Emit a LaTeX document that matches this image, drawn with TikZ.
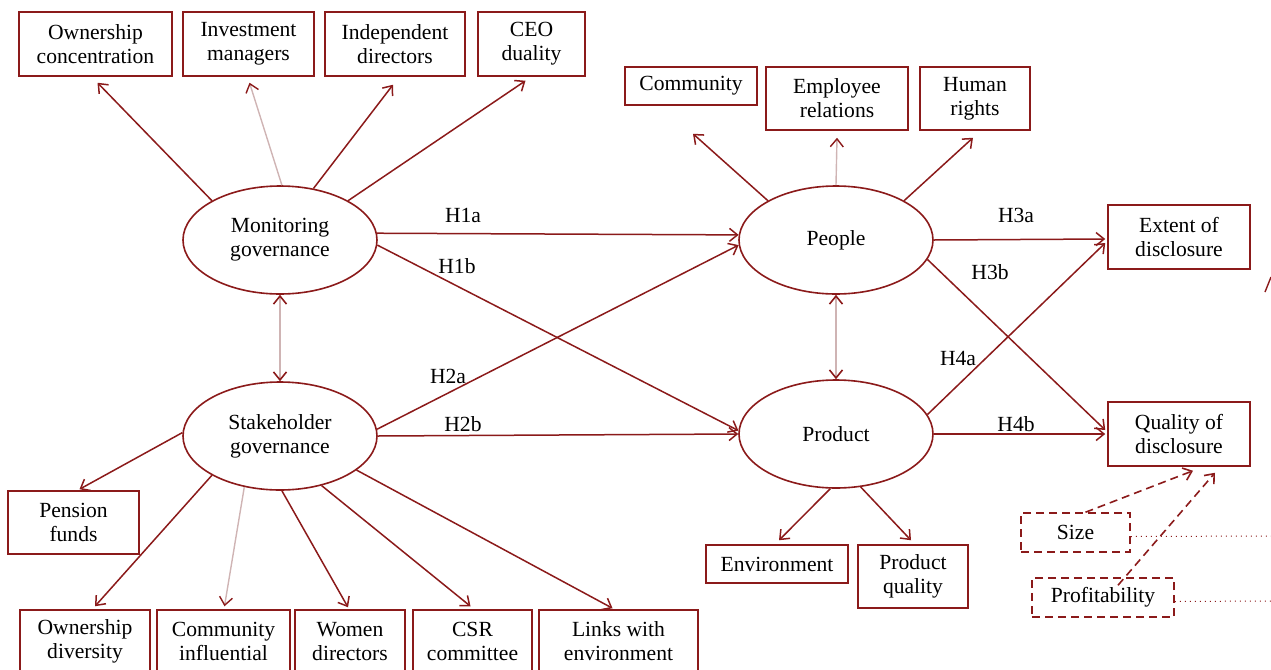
\documentclass[tikz,border=0pt]{standalone}
\usepackage{fontspec}
\setmainfont{Liberation Serif}
\usetikzlibrary{arrows.meta,shapes.geometric}
\definecolor{wine}{HTML}{8B1A1A}
\definecolor{pale}{HTML}{CFB4B4}
\tikzset{
  txt/.style={font=\fontsize{10.8}{12}\selectfont},
  box/.style={txt, draw=wine, line width=0.75pt, align=center, inner sep=1pt},
  dbox/.style={box, dash pattern=on 4pt off 2.5pt},
  oval/.style={txt, ellipse, draw=wine, line width=0.8pt, align=center, inner sep=0pt,
    minimum width=97pt, minimum height=54pt},
  tip/.style={-{Straight Barb[length=4pt,width=6.5pt]}},
  link/.style={draw=wine, line width=0.75pt, tip},
  faint/.style={draw=pale, line width=0.7pt, -{Straight Barb[length=4pt,width=6.5pt,color=wine]}},
  both/.style={draw=pale, line width=0.8pt,
    {Straight Barb[length=4pt,width=6.5pt,color=wine]}-{Straight Barb[length=4pt,width=6.5pt,color=wine]}},
  ctl/.style={draw=wine, line width=0.8pt, dash pattern=on 4pt off 2.5pt, tip},
  trail/.style={draw=wine, line width=0.5pt, dotted},
  lab/.style={txt},
}

\begin{document}
\begin{tikzpicture}[x=0.5pt, y=-0.5pt]
  \useasboundingbox (0,0) rectangle (1271,670);
  % latent constructs
  \node[oval] (mon) at (280,240) {Monitoring\\governance};
  \node[oval] (sta) at (280,436) {Stakeholder\\governance};
  \node[oval] (peo) at (836,240) {People};
  \node[oval] (pro) at (836,434) {Product};
  % monitoring indicators
  \node[box, minimum width=76.5pt, minimum height=32pt] (oc)  at (95.5,44)   {Ownership\\concentration};
  \node[box, minimum width=65.5pt, minimum height=32pt] (im)  at (248.5,44)  {Investment\\managers};
  \node[box, minimum width=70pt,   minimum height=32pt] (id)  at (395,44)    {Independent\\directors};
  \node[box, minimum width=53.5pt, minimum height=32pt] (ceo) at (531.5,44)  {CEO\\duality};
  % stakeholder indicators
  \node[box, minimum width=65.5pt, minimum height=31.5pt] (pf)  at (73.5,522.5) {Pension\\funds};
  \node[box, minimum width=65pt,   minimum height=31.5pt] (od)  at (85,641.5)   {Ownership\\diversity};
  \node[box, minimum width=66.5pt, minimum height=31.5pt] (ci)  at (223.5,641.5) {Community\\influential};
  \node[box, minimum width=55pt,   minimum height=31.5pt] (wd)  at (350,641.5)  {Women\\directors};
  \node[box, minimum width=59.5pt, minimum height=31.5pt] (csr) at (472.5,641.5) {CSR\\committee};
  \node[box, minimum width=79.5pt, minimum height=31.5pt] (lw)  at (618.5,641.5) {Links with\\environment};
  % CSR indicators
  \node[box, minimum width=66pt, minimum height=19pt]   (com) at (691,86)    {Community};
  \node[box, minimum width=71pt, minimum height=31.5pt] (er)  at (837,98.5)  {Employee\\relations};
  \node[box, minimum width=55pt, minimum height=31.5pt] (hr)  at (975,98.5)  {Human\\rights};
  \node[box, minimum width=71pt, minimum height=19pt]   (env) at (777,564)   {Environment};
  \node[box, minimum width=55pt, minimum height=31.5pt] (pq)  at (913,576.5) {Product\\quality};
  % disclosure
  \node[box, minimum width=71pt, minimum height=32pt] (ext)  at (1179,237) {Extent of\\disclosure};
  \node[box, minimum width=71pt, minimum height=32pt] (qual) at (1179,434) {Quality of\\disclosure};
  % controls
  \node[dbox, minimum width=54.5pt, minimum height=19.5pt] (size) at (1075.5,532.5) {Size};
  \node[dbox, minimum width=71pt,   minimum height=19.5pt] (prof) at (1103,597.5)   {Profitability};
  \coordinate (sizeend) at (1271,536);
  \coordinate (profend) at (1271,601);
  \coordinate (cut1) at (1265,292);
  \coordinate (cut2) at (1271,277);

  \draw[link]  (mon.150) -- ([xshift=1pt,yshift=-3pt]oc.south);
  \draw[faint] (mon.88)  -- ([xshift=0.5pt,yshift=-3pt]im.south);
  \draw[link]  (mon.57)  -- ([xshift=-1pt,yshift=-4pt]id.south);
  \draw[link]  (mon.30)  -- ([xshift=-3pt,yshift=-2pt]ceo.south);

  \draw[link]  (sta.178) -- ([xshift=3pt,yshift=0.5pt]pf.north);
  \draw[link]  (sta.210) -- ([xshift=5pt,yshift=1.5pt]od.north);
  \draw[faint] (sta.235) -- ([xshift=0.5pt,yshift=1.5pt]ci.north);
  \draw[link]  (sta.-88) -- ([xshift=-1pt,yshift=1pt]wd.north);
  \draw[link]  (sta.-50) -- ([xshift=-1pt,yshift=1.5pt]csr.north);
  \draw[link]  (sta.-24) -- ([xshift=-3pt,yshift=0.5pt]lw.north);

  \draw[link]  (peo.150) -- ([xshift=1pt,yshift=-14pt]com.south);
  \draw[faint] (peo.90)  -- ([yshift=-3.5pt]er.south);
  \draw[link]  (peo.30)  -- ([xshift=-1pt,yshift=-3.5pt]hr.south);
  \draw[link]  (pro.-96) -- ([xshift=1pt,yshift=2pt]env.north);
  \draw[link]  (pro.-65) -- ([xshift=-1pt,yshift=2pt]pq.north);

  \draw[both] (mon.south) -- (sta.north);
  \draw[both] (peo.south) -- (pro.north);

  % hypotheses
  \draw[link] (mon.4)   -- (peo.177);
  \draw[link] (mon.-3)  -- (pro.178);
  \draw[link] (sta.4)   -- (peo.183);
  \draw[link] (sta.0)   -- (pro.180);
  \draw[link] (peo.0)   -- ([xshift=-1pt,yshift=-1pt]ext.west);
  \draw[link] (peo.-12) -- ([xshift=-1pt,yshift=2pt]qual.west);
  \draw[link] (pro.12)  -- ([xshift=-1pt,yshift=-3pt]ext.west);
  \draw[link] (pro.0)   -- ([xshift=-1pt]qual.west);
  \node[lab] at (463,215) {H1a};
  \node[lab] at (457,266) {H1b};
  \node[lab] at (448,376) {H2a};
  \node[lab] at (463,424) {H2b};
  \node[lab] at (1016,215) {H3a};
  \node[lab] at (990,272) {H3b};
  \node[lab] at (958,358) {H4a};
  \node[lab] at (1016,424) {H4b};

  \draw[ctl] ([xshift=5pt]size.north) -- ([xshift=7pt,yshift=-2pt]qual.south);
  \draw[ctl] ([xshift=7.5pt,yshift=-4pt]prof.north) -- ([xshift=18pt,yshift=-3pt]qual.south);
  \draw[trail] ([yshift=-2pt]size.east) -- (sizeend);
  \draw[trail] ([yshift=-2pt]prof.east) -- (profend);
  \draw[wine, line width=0.7pt] (cut1) -- (cut2);
\end{tikzpicture}
\end{document}
